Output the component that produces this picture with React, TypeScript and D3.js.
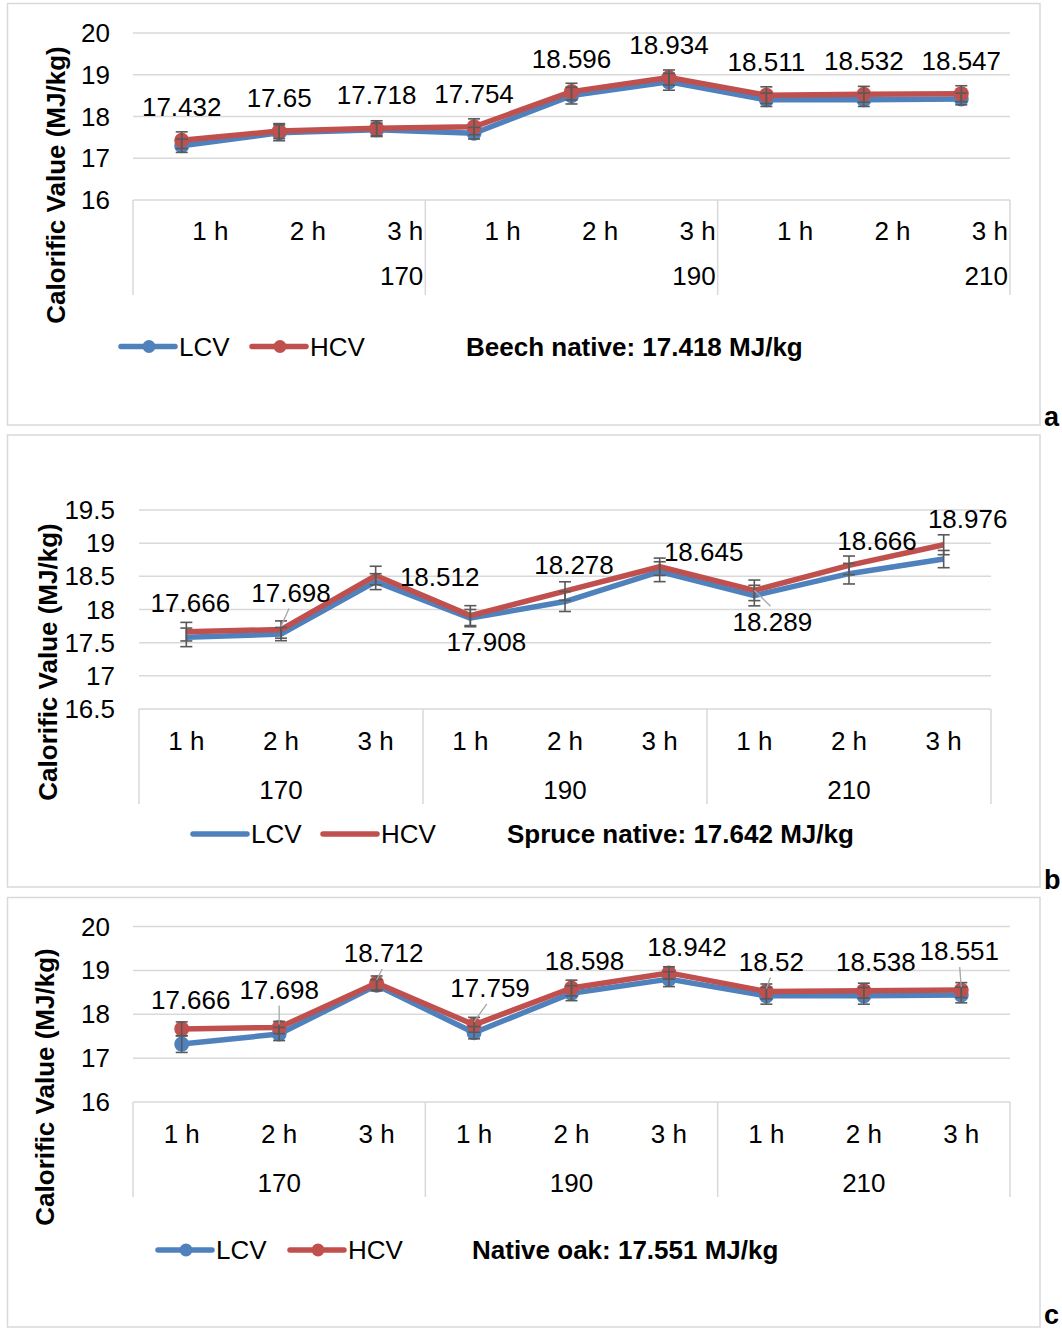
import React from 'react';
import * as d3 from 'd3';

// x axis: two levels, hours inside temperature groups
const hours = ['1 h', '2 h', '3 h'];
const temps = ['170', '190', '210'];

// a - beech
const beechLCV = [17.3, 17.61, 17.68, 17.6, 18.5, 18.83, 18.4, 18.4, 18.42];
const beechHCV = [17.432, 17.65, 17.718, 17.754, 18.596, 18.934, 18.511, 18.532, 18.547];
const beechErrLCV = [0.16, 0.19, 0.16, 0.14, 0.2, 0.2, 0.16, 0.16, 0.14];
const beechErrHCV = [0.2, 0.18, 0.18, 0.19, 0.2, 0.18, 0.2, 0.19, 0.19];

// b - spruce
const spruceLCV = [17.58, 17.63, 18.42, 17.87, 18.12, 18.57, 18.21, 18.54, 18.76];
const spruceHCV = [17.666, 17.698, 18.512, 17.908, 18.278, 18.645, 18.289, 18.666, 18.976];
const spruceErrLCV = [0.14, 0.1, 0.12, 0.13, 0.15, 0.15, 0.155, 0.155, 0.13];
const spruceErrHCV = [0.14, 0.13, 0.14, 0.15, 0.14, 0.13, 0.155, 0.14, 0.15];

// c - oak
const oakLCV = [17.32, 17.55, 18.66, 17.58, 18.48, 18.8, 18.42, 18.42, 18.44];
const oakHCV = [17.666, 17.698, 18.712, 17.759, 18.598, 18.942, 18.52, 18.538, 18.551];
const oakErrLCV = [0.19, 0.15, 0.13, 0.14, 0.17, 0.17, 0.19, 0.19, 0.18];
const oakErrHCV = [0.16, 0.14, 0.16, 0.17, 0.18, 0.14, 0.17, 0.17, 0.17];

const ticksA = [16, 17, 18, 19, 20];
const ticksB = [16.5, 17, 17.5, 18, 18.5, 19, 19.5];
const ticksC = [16, 17, 18, 19, 20];

const notes = ['Beech native: 17.418 MJ/kg', 'Spruce native: 17.642 MJ/kg', 'Native oak: 17.551 MJ/kg'];
const panelLetters = ['a', 'b', 'c'];

const BLUE = '#4f81bd';
const RED = '#c0504d';
const GRID = '#d9d9d9';
const ERR = '#595959';
const FONT = "'Liberation Sans', Arial, sans-serif";

const keys = temps.flatMap(t => hours.map(h => t + '|' + h));

// label offsets (dx, dy) from the HCV point, and optional leader lines
const labelPosA = keys.map(() => [0, -33]);
const labelPosB = [[4, -29], [10, -37], [64, 1], [16, 26], [9, -26], [44, -15], [18, 32], [28, -24], [24, -26]];
const labelPosC = [[9, -29], [0, -38], [7, -30], [16, -37], [13, -27], [18, -26], [5, -30], [12, -29], [-2, -39]];
const leadersB = [1, 6];
const leadersC = [1, 2, 3, 6, 8];

function Panel(p) {
  const x = d3.scaleBand().domain(keys).range([p.x0, p.x1]);
  const y = d3.scaleLinear().domain(p.domain).range([p.yBottom, p.yTop]);
  const cx = (i) => x(keys[i]) + x.bandwidth() / 2;
  const line = d3.line().x((d, i) => cx(i)).y(d => y(d));
  const groupW = x.bandwidth() * 3;
  const sep = [0, 1, 2, 3].map(i => p.x0 + i * groupW);
  const series = [
    { v: p.lcv, e: p.errL, c: BLUE },
    { v: p.hcv, e: p.errH, c: RED },
  ];

  return (
    <g>
      <rect x={p.frame[0]} y={p.frame[1]} width={p.frame[2] - p.frame[0]} height={p.frame[3] - p.frame[1]}
        fill="#fff" stroke={GRID} strokeWidth={1.5} />
      {p.ticks.map(t => (
        <g key={t}>
          <line x1={p.x0} x2={p.x1} y1={y(t)} y2={y(t)} stroke={GRID} strokeWidth={1.5} />
          <text x={p.tickRight} y={y(t)} dy="0.35em" textAnchor="end" fontSize={26} fill="#000">{t}</text>
        </g>
      ))}
      {sep.map((s, i) => (
        <line key={i} x1={s} x2={s} y1={p.yBottom} y2={p.boxBottom} stroke={GRID} strokeWidth={1.5} />
      ))}
      {keys.map((k, i) => {
        const h = k.split('|')[1];
        const tx = p.alignEnd ? x(k) + x.bandwidth() - 2 : cx(i);
        return (
          <text key={k} x={tx} y={p.tickY} dy="0.35em" textAnchor={p.alignEnd ? 'end' : 'middle'} fontSize={26}>{h}</text>
        );
      })}
      {temps.map((t, i) => (
        <text key={t} x={p.alignEnd ? sep[i + 1] - 2 : sep[i] + groupW / 2} y={p.groupY} dy="0.35em"
          textAnchor={p.alignEnd ? 'end' : 'middle'} fontSize={26}>{t}</text>
      ))}
      <text transform={`translate(${p.titleX},${p.titleY}) rotate(-90)`} textAnchor="middle" dy="0.35em"
        fontSize={26} fontWeight="bold">Calorific Value (MJ/kg)</text>

      {series.map((s, si) => (
        <g key={si}>
          <path d={line(s.v)} fill="none" stroke={s.c} strokeWidth={5.5} strokeLinejoin="round" />
          {p.markers && s.v.map((v, i) => (
            <circle key={i} cx={cx(i)} cy={y(v)} r={7.5} fill={s.c} />
          ))}
        </g>
      ))}
      {series.map((s, si) => s.v.map((v, i) => (
        <g key={si + '-' + i} stroke={ERR} strokeWidth={1.6}>
          <line x1={cx(i)} x2={cx(i)} y1={y(v - s.e[i])} y2={y(v + s.e[i])} />
          <line x1={cx(i) - 6} x2={cx(i) + 6} y1={y(v - s.e[i])} y2={y(v - s.e[i])} />
          <line x1={cx(i) - 6} x2={cx(i) + 6} y1={y(v + s.e[i])} y2={y(v + s.e[i])} />
        </g>
      )))}
      {p.leaders.map(i => {
        const [dx, dy] = p.labelPos[i];
        const px = cx(i), py = y(p.hcv[i]);
        const sy = dy < 0 ? py + dy + 16 : py + dy - 16;
        const sx = px + dx * (dy < 0 ? 0.8 : 0.9);
        return <line key={'l' + i} x1={sx} y1={sy} x2={px} y2={py + (dy < 0 ? -3 : 0)} stroke="#a6a6a6" strokeWidth={1.3} />;
      })}
      {p.hcv.map((v, i) => (
        <text key={'t' + i} x={cx(i) + p.labelPos[i][0]} y={y(v) + p.labelPos[i][1]} dy="0.35em"
          textAnchor="middle" fontSize={26}>{v}</text>
      ))}

      {/* legend */}
      {[{ c: BLUE, n: 'LCV' }, { c: RED, n: 'HCV' }].map((it, i) => {
        const lx = p.legend.x[i];
        return (
          <g key={it.n}>
            <line x1={lx} x2={lx + 54} y1={p.legend.y} y2={p.legend.y} stroke={it.c} strokeWidth={5.5} strokeLinecap="round" />
            {p.markers && <circle cx={lx + 28} cy={p.legend.y} r={6.5} fill={it.c} />}
            <text x={lx + 58} y={p.legend.y} dy="0.35em" fontSize={26}>{it.n}</text>
          </g>
        );
      })}
      <text x={p.legend.note} y={p.legend.y} dy="0.35em" fontSize={26} fontWeight="bold">{p.note}</text>
      <text x={1044} y={p.letterY} fontSize={27} fontWeight="bold">{p.letter}</text>
    </g>
  );
}

export default function App() {
  const panels = [
    {
      frame: [7.5, 3.5, 1040, 425], x0: 133, x1: 1010, domain: [16, 20], yBottom: 200, yTop: 33,
      ticks: ticksA, tickRight: 110, boxBottom: 295, tickY: 231, groupY: 276, alignEnd: true,
      titleX: 56, titleY: 185, lcv: beechLCV, hcv: beechHCV, errL: beechErrLCV, errH: beechErrHCV,
      markers: true, labelPos: labelPosA, leaders: [],
      legend: { y: 346.5, x: [121, 252], note: 466 }, note: notes[0], letter: panelLetters[0], letterY: 426,
    },
    {
      frame: [7.5, 435, 1040, 887], x0: 139, x1: 991, domain: [16.5, 19.5], yBottom: 709, yTop: 510,
      ticks: ticksB, tickRight: 115, boxBottom: 804, tickY: 741, groupY: 790, alignEnd: false,
      titleX: 48, titleY: 662, lcv: spruceLCV, hcv: spruceHCV, errL: spruceErrLCV, errH: spruceErrHCV,
      markers: false, labelPos: labelPosB, leaders: leadersB,
      legend: { y: 834, x: [193, 323], note: 507 }, note: notes[1], letter: panelLetters[1], letterY: 889,
    },
    {
      frame: [7.5, 897.5, 1040, 1327], x0: 133, x1: 1010, domain: [16, 20], yBottom: 1102, yTop: 926.5,
      ticks: ticksC, tickRight: 110, boxBottom: 1197, tickY: 1134, groupY: 1183, alignEnd: false,
      titleX: 45, titleY: 1087, lcv: oakLCV, hcv: oakHCV, errL: oakErrLCV, errH: oakErrHCV,
      markers: true, labelPos: labelPosC, leaders: leadersC,
      legend: { y: 1250, x: [158, 290], note: 472 }, note: notes[2], letter: panelLetters[2], letterY: 1324,
    },
  ];
  return (
    <svg width={1062} height={1329} style={{ position: 'absolute', left: 0, top: 0, background: '#fff' }}
      fontFamily={FONT}>
      <rect width={1062} height={1329} fill="#fff" />
      {panels.map((p, i) => <Panel key={i} {...p} />)}
    </svg>
  );
}
